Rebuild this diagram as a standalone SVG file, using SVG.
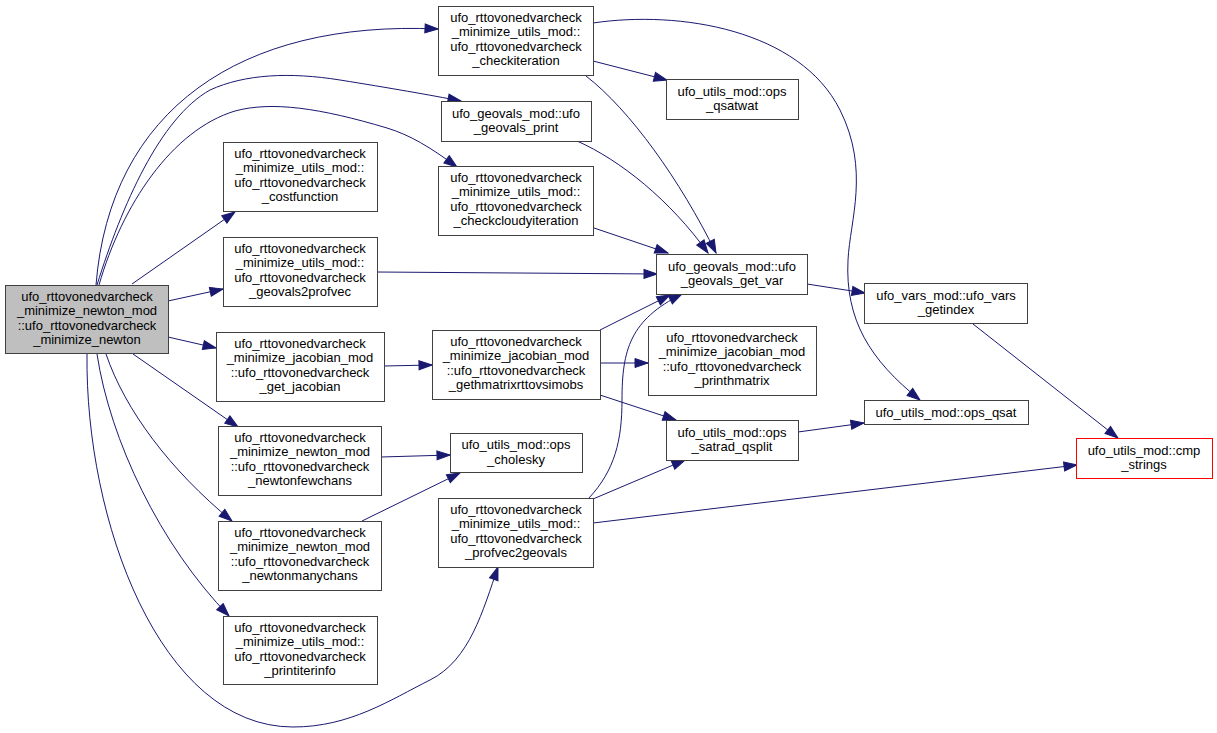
<svg xmlns="http://www.w3.org/2000/svg" width="1217" height="733" viewBox="0 0 1217 733">
<style>
.n rect{fill:#ffffff;stroke:#404040;stroke-width:1}
.n text{font-family:"Liberation Sans",Arial,Helvetica,sans-serif;font-size:13px;fill:#000;text-anchor:middle}
#edges path{fill:none;stroke:#191970;stroke-width:1;marker-end:url(#ah)}
</style>
<defs>
<marker id="ah" markerUnits="userSpaceOnUse" markerWidth="15" markerHeight="11" viewBox="-1 -1 15 11" refX="13" refY="4.5" orient="auto">
<path d="M0,0 L13,4.5 L0,9 z" fill="#191970" stroke="#191970" stroke-width="1"/>
</marker>
</defs>
<rect width="1217" height="733" fill="#ffffff"/>
<g id="edges">
<path d="M96,285 C110,110 240,20 438,29"/>
<path d="M97,285 C122,205 160,118 210,90 C245,74 290,72 340,80 C390,88 430,95 461,101"/>
<path d="M99,285 C122,205 172,130 235,111 C272,101 320,108 387,128 C410,135 430,147 457,167"/>
<path d="M132,284 L235,212"/>
<path d="M168,301 L223,289"/>
<path d="M168,337 L216,348"/>
<path d="M133,354 L238,427"/>
<path d="M106,354 C125,410 170,470 232,521"/>
<path d="M97,354 C110,440 160,545 229,616"/>
<path d="M87,354 C85,520 160,727 293,727 C350,727 390,700 430,680 C470,660 483,610 498,567"/>
<path d="M593,61 L667,80"/>
<path d="M586,76 C630,110 680,180 716,253"/>
<path d="M577,141 C620,160 670,200 708,253"/>
<path d="M594,228 L668,253"/>
<path d="M377,272 L657,274"/>
<path d="M807,284 L865,293"/>
<path d="M973,324 L1118,438"/>
<path d="M593,23 C680,10 800,30 840,110 C870,170 850,220 848,260 C845,320 870,360 920,400"/>
<path d="M384,366 L432,365"/>
<path d="M600,330 L670,295"/>
<path d="M600,363 L648,363"/>
<path d="M600,395 L676,420"/>
<path d="M381,457 L450,455"/>
<path d="M362,521 L460,473"/>
<path d="M589,498 C615,470 622,440 622,400 C622,350 630,320 682,294"/>
<path d="M593,499 L685,460"/>
<path d="M593,523 L1077,465"/>
<path d="M798,432 L864,423"/>
</g>
<g id="node1" class="n"><rect x="5.5" y="285.5" width="163" height="68" style="fill:#bfbfbf"/>
<text x="87" y="300.5">ufo_rttovonedvarcheck</text><text x="87" y="315">_minimize_newton_mod</text><text x="87" y="329.5">::ufo_rttovonedvarcheck</text><text x="87" y="344">_minimize_newton</text></g>
<g id="node2" class="n"><rect x="438.5" y="6.5" width="155" height="69"/>
<text x="516" y="21.5">ufo_rttovonedvarcheck</text><text x="516" y="36">_minimize_utils_mod::</text><text x="516" y="50.5">ufo_rttovonedvarcheck</text><text x="516" y="65">_checkiteration</text></g>
<g id="node3" class="n"><rect x="441.5" y="101.5" width="150" height="40"/>
<text x="516" y="117.5">ufo_geovals_mod::ufo</text><text x="516" y="132">_geovals_print</text></g>
<g id="node4" class="n"><rect x="438.5" y="166.5" width="155" height="69"/>
<text x="516" y="181.5">ufo_rttovonedvarcheck</text><text x="516" y="196">_minimize_utils_mod::</text><text x="516" y="210.5">ufo_rttovonedvarcheck</text><text x="516" y="225">_checkcloudyiteration</text></g>
<g id="node5" class="n"><rect x="223.5" y="142.5" width="154" height="69"/>
<text x="300" y="157.5">ufo_rttovonedvarcheck</text><text x="300" y="172">_minimize_utils_mod::</text><text x="300" y="186.5">ufo_rttovonedvarcheck</text><text x="300" y="201">_costfunction</text></g>
<g id="node6" class="n"><rect x="223.5" y="237.5" width="154" height="69"/>
<text x="300" y="252.5">ufo_rttovonedvarcheck</text><text x="300" y="267">_minimize_utils_mod::</text><text x="300" y="281.5">ufo_rttovonedvarcheck</text><text x="300" y="296">_geovals2profvec</text></g>
<g id="node7" class="n"><rect x="216.5" y="332.5" width="168" height="69"/>
<text x="300" y="347.5">ufo_rttovonedvarcheck</text><text x="300" y="362">_minimize_jacobian_mod</text><text x="300" y="376.5">::ufo_rttovonedvarcheck</text><text x="300" y="391">_get_jacobian</text></g>
<g id="node8" class="n"><rect x="218.5" y="426.5" width="163" height="69"/>
<text x="300" y="441.5">ufo_rttovonedvarcheck</text><text x="300" y="456">_minimize_newton_mod</text><text x="300" y="470.5">::ufo_rttovonedvarcheck</text><text x="300" y="485">_newtonfewchans</text></g>
<g id="node9" class="n"><rect x="218.5" y="521.5" width="163" height="69"/>
<text x="300" y="536.5">ufo_rttovonedvarcheck</text><text x="300" y="551">_minimize_newton_mod</text><text x="300" y="565.5">::ufo_rttovonedvarcheck</text><text x="300" y="580">_newtonmanychans</text></g>
<g id="node10" class="n"><rect x="223.5" y="616.5" width="154" height="68"/>
<text x="300" y="631.5">ufo_rttovonedvarcheck</text><text x="300" y="646">_minimize_utils_mod::</text><text x="300" y="660.5">ufo_rttovonedvarcheck</text><text x="300" y="675">_printiterinfo</text></g>
<g id="node11" class="n"><rect x="432.5" y="330.5" width="168" height="69"/>
<text x="516" y="345.5">ufo_rttovonedvarcheck</text><text x="516" y="360">_minimize_jacobian_mod</text><text x="516" y="374.5">::ufo_rttovonedvarcheck</text><text x="516" y="389">_gethmatrixrttovsimobs</text></g>
<g id="node12" class="n"><rect x="648.5" y="326.5" width="168" height="69"/>
<text x="732" y="341.5">ufo_rttovonedvarcheck</text><text x="732" y="356">_minimize_jacobian_mod</text><text x="732" y="370.5">::ufo_rttovonedvarcheck</text><text x="732" y="385">_printhmatrix</text></g>
<g id="node13" class="n"><rect x="450.5" y="433.5" width="132" height="39"/>
<text x="516" y="449">ufo_utils_mod::ops</text><text x="516" y="463.5">_cholesky</text></g>
<g id="node14" class="n"><rect x="438.5" y="498.5" width="155" height="69"/>
<text x="516" y="513.5">ufo_rttovonedvarcheck</text><text x="516" y="528">_minimize_utils_mod::</text><text x="516" y="542.5">ufo_rttovonedvarcheck</text><text x="516" y="557">_profvec2geovals</text></g>
<g id="node15" class="n"><rect x="666.5" y="420.5" width="132" height="40"/>
<text x="732" y="436.5">ufo_utils_mod::ops</text><text x="732" y="451">_satrad_qsplit</text></g>
<g id="node16" class="n"><rect x="656.5" y="254.5" width="151" height="40"/>
<text x="732" y="270.5">ufo_geovals_mod::ufo</text><text x="732" y="285">_geovals_get_var</text></g>
<g id="node17" class="n"><rect x="666.5" y="79.5" width="132" height="40"/>
<text x="732" y="95.5">ufo_utils_mod::ops</text><text x="732" y="110">_qsatwat</text></g>
<g id="node18" class="n"><rect x="864.5" y="283.5" width="163" height="40"/>
<text x="946" y="299.5">ufo_vars_mod::ufo_vars</text><text x="946" y="314">_getindex</text></g>
<g id="node19" class="n"><rect x="864.5" y="400.5" width="164" height="24"/>
<text x="946" y="417">ufo_utils_mod::ops_qsat</text></g>
<g id="node20" class="n"><rect x="1076.5" y="438.5" width="136" height="40" style="stroke:#ff0000"/>
<text x="1144" y="454.5">ufo_utils_mod::cmp</text><text x="1144" y="469">_strings</text></g>
</svg>
